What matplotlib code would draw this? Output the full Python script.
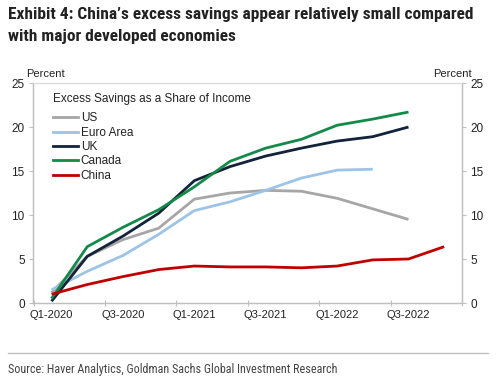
import matplotlib
matplotlib.use("Agg")
import matplotlib.pyplot as plt
from matplotlib.lines import Line2D
import numpy as np

quarters = ["Q1-2020", "Q2-2020", "Q3-2020", "Q4-2020", "Q1-2021", "Q2-2021",
            "Q3-2021", "Q4-2021", "Q1-2022", "Q2-2022", "Q3-2022", "Q4-2022"]
us = [1.2, 5.3, 7.2, 8.5, 11.8, 12.5, 12.8, 12.7, 11.9, 10.7, 9.5]
euro = [1.5, 3.6, 5.4, 7.8, 10.5, 11.5, 12.8, 14.2, 15.1, 15.2]
uk = [0.2, 5.3, 7.6, 10.2, 13.9, 15.5, 16.7, 17.6, 18.4, 18.9, 20.0]
canada = [0.5, 6.4, 8.6, 10.6, 13.2, 16.1, 17.6, 18.6, 20.2, 20.9, 21.7]
china = [1.0, 2.1, 3.0, 3.8, 4.2, 4.1, 4.1, 4.0, 4.2, 4.9, 5.0, 6.4]
xlabels = ["Q1-2020", "Q3-2020", "Q1-2021", "Q3-2021", "Q1-2022", "Q3-2022"]
yticks = [0, 5, 10, 15, 20, 25]

series = [("US", us, "#a6a6a6"), ("Euro Area", euro, "#9dc3e6"),
          ("UK", uk, "#12233a"), ("Canada", canada, "#138a4a"),
          ("China", china, "#c00000")]

plt.rcParams["font.family"] = ["Liberation Sans", "DejaVu Sans"]
NARROW = ["Liberation Sans Narrow", "Roboto Condensed", "DejaVu Sans Condensed",
          "Open Sans Condensed", "Arial Narrow", "Liberation Sans", "DejaVu Sans"]

fig = plt.figure(figsize=(5, 3.78), dpi=100)
ax = fig.add_axes([0.066, 0.1984, 0.858, 0.582])

for name, vals, col in series:
    ax.plot(np.arange(len(vals)), vals, color=col, lw=2.0, label=name,
            solid_joinstyle="miter", solid_capstyle="butt")

ax.set_xlim(-0.52, 11.45)
ax.set_ylim(0, 25)
ax.set_yticks(yticks)
ax.set_xticks(np.arange(-0.5, 12, 2), minor=False)
ax.set_xticklabels([])
ax.set_xticks(np.arange(0, 11, 2), minor=True)
ax.set_xticklabels(xlabels, minor=True)
ax.tick_params(axis="x", which="major", length=4, direction="inout", color="#bfbfbf")
ax.tick_params(axis="x", which="minor", length=0, labelsize=8, pad=5, colors="#222222")
ax.tick_params(axis="y", length=3, direction="out", color="#bfbfbf", labelsize=8.5,
               labelcolor="#222222", pad=3)

ax2 = ax.twinx()
ax2.set_ylim(0, 25)
ax2.set_yticks(yticks)
ax2.tick_params(axis="y", length=3, direction="out", color="#bfbfbf", labelsize=8.5,
                labelcolor="#222222", pad=3)

for a in (ax, ax2):
    for s in ["left", "right", "bottom"]:
        a.spines[s].set_color("#bfbfbf")
        a.spines[s].set_linewidth(0.9)
    a.spines["top"].set_color("#d9d9d9")
    a.spines["top"].set_linewidth(0.8)

handles = [Line2D([0], [0], color=c, lw=2.0) for _, _, c in series]
leg = ax.legend(handles, [n for n, _, _ in series], loc="upper left",
                bbox_to_anchor=(0.03, 0.985), frameon=False, fontsize=8.5,
                title="Excess Savings as a Share of Income", title_fontsize=8.5,
                handlelength=2.1, handletextpad=0.25, labelspacing=0.2,
                borderaxespad=0.2)
leg._legend_box.align = "left"
leg._legend_box.sep = 5
leg.get_title().set_color("#222222")
for t in leg.get_texts():
    t.set_color("#222222")

fig.text(0.09, 1 - 74 / 378, "Percent", fontsize=8, ha="center", va="center", color="#222222")
fig.text(0.904, 1 - 74 / 378, "Percent", fontsize=8, ha="center", va="center", color="#222222")

t1 = fig.text(8 / 500, 1 - 14 / 378, "Exhibit 4: China\u2019s excess savings appear relatively small compared",
              fontsize=13, fontweight="bold", family=NARROW,
              ha="left", va="center", color="#222222")
t2 = fig.text(8 / 500, 1 - 36 / 378, "with major developed economies",
              fontsize=13, fontweight="bold", family=NARROW,
              ha="left", va="center", color="#222222")

fig.add_artist(Line2D([8 / 500, 488 / 500], [1 - 353 / 378, 1 - 353 / 378],
                      color="#bfbfbf", lw=1.0, transform=fig.transFigure))
src = fig.text(8 / 500, 1 - 369 / 378, "Source: Haver Analytics, Goldman Sachs Global Investment Research",
               fontsize=9.5, family=NARROW,
               ha="left", va="center", color="#444444")

# fit title / source widths to the reference widths
r = fig.canvas.get_renderer()
w1 = t1.get_window_extent(r).width
s1 = min(13.0, 13.0 * 462 / w1)
t1.set_fontsize(s1)
t2.set_fontsize(s1)
ws = src.get_window_extent(r).width
src.set_fontsize(min(9.5, 9.5 * 330 / ws))

fig.savefig("out.png", dpi=100)
